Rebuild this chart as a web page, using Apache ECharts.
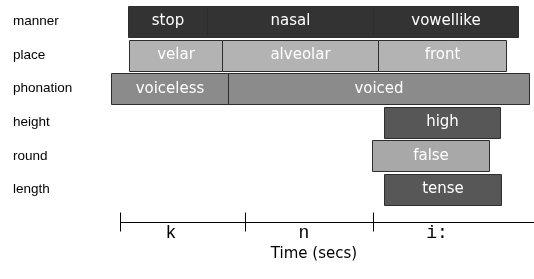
<!DOCTYPE html>
<html>
<head>
    <meta charset="UTF-8">
    <title>tiers</title>
    <script src="https://cdn.jsdelivr.net/npm/echarts@6.0.0/dist/echarts.min.js"></script>
</head>
<body style="margin:0;">
    <div id="main" style="width:534px;height:279px;"></div>
    <script type="text/javascript">
        // tiers (rows) and their segments, times in seconds
        var tiers = ['manner', 'place', 'phonation', 'height', 'round', 'length'];
        var segLabels = [
            ['stop', 'nasal', 'vowellike'],
            ['velar', 'alveolar', 'front'],
            ['voiceless', 'voiced'],
            ['high'],
            ['false'],
            ['tense']
        ];
        var segBounds = [
            [0.008, 0.087, 0.253, 0.398],
            [0.009, 0.102, 0.258, 0.386],
            [-0.009, 0.108, 0.409],
            [0.264, 0.380],
            [0.252, 0.369],
            [0.264, 0.381]
        ];
        // phone segments on the time ruler
        var phones = ['k', 'n', 'i:'];
        var phoneBounds = [0, 0.125, 0.253, 0.414];
        var phoneLabelAt = [0.051, 0.184, 0.317];

        var tierColors = ['#333333', '#b3b3b3', '#8b8b8b', '#575757', '#a8a8a8', '#575757'];

        var barData = [];
        segLabels.forEach(function (labels, row) {
            labels.forEach(function (lab, i) {
                barData.push([segBounds[row][i], segBounds[row][i + 1], row, lab]);
            });
        });
        var rulerData = phones.map(function (p, i) {
            return [phoneBounds[i], phoneBounds[i + 1], phoneLabelAt[i], p];
        });

        var myChart = echarts.init(document.getElementById('main'));
        myChart.setOption({
            animation: false,
            grid: { left: 94, right: 0, top: 4.7, bottom: 72.7 },
            xAxis: {
                type: 'value',
                min: -0.026,
                max: 0.414,
                name: 'Time (secs)',
                nameLocation: 'middle',
                nameGap: 47.7,
                nameTextStyle: { fontFamily: 'DejaVu Sans', fontSize: 15, color: '#000', verticalAlign: 'middle' },
                axisLine: { show: false },
                axisTick: { show: false },
                axisLabel: { show: false },
                splitLine: { show: false }
            },
            yAxis: {
                type: 'category',
                data: tiers,
                inverse: true,
                axisLine: { show: false },
                axisTick: { show: false },
                splitLine: { show: false },
                axisLabel: {
                    align: 'left',
                    margin: 81,
                    padding: [0, 0, 3, 0],
                    fontFamily: 'Liberation Sans',
                    fontSize: 13.5,
                    color: '#000'
                }
            },
            series: [{
                type: 'custom',
                name: 'segments',
                data: barData,
                encode: { x: [0, 1], y: 2 },
                renderItem: function (params, api) {
                    var row = api.value(2);
                    var p0 = api.coord([api.value(0), row]);
                    var p1 = api.coord([api.value(1), row]);
                    var h = api.size([0, 1])[1] * 0.92;
                    var x0 = Math.round(p0[0]) + 0.5;
                    var x1 = Math.round(p1[0]) + 0.5;
                    var y0 = Math.round(p0[1] - h / 2) + 0.5;
                    return {
                        type: 'group',
                        children: [{
                            type: 'rect',
                            shape: { x: x0, y: y0, width: x1 - x0, height: Math.round(h) },
                            style: { fill: tierColors[row], stroke: '#2e2e2e', lineWidth: 1 }
                        }, {
                            type: 'text',
                            x: (x0 + x1) / 2,
                            y: p0[1],
                            style: {
                                text: api.value(3),
                                fill: '#fff',
                                font: '15px "DejaVu Sans"',
                                align: 'center',
                                verticalAlign: 'middle'
                            }
                        }]
                    };
                }
            }, {
                type: 'custom',
                name: 'ruler',
                data: rulerData,
                encode: { x: [0, 1] },
                renderItem: function (params, api) {
                    var cs = params.coordSys;
                    var y = Math.round(cs.y + cs.height + 15.7) + 0.5;
                    var xa = Math.round(api.coord([api.value(0), 0])[0]) + 0.5;
                    var xb = Math.round(api.coord([api.value(1), 0])[0]) + 0.5;
                    var xl = api.coord([api.value(2), 0])[0];
                    return {
                        type: 'group',
                        children: [{
                            type: 'line',
                            shape: { x1: xa, y1: y, x2: xb, y2: y },
                            style: { stroke: '#000', lineWidth: 1 }
                        }, {
                            type: 'line',
                            shape: { x1: xa, y1: y - 10, x2: xa, y2: y + 9 },
                            style: { stroke: '#000', lineWidth: 1 }
                        }, {
                            type: 'text',
                            x: xl,
                            y: y + 10.7,
                            style: {
                                text: api.value(3),
                                fill: '#000',
                                font: '18px "Liberation Mono"',
                                align: 'center',
                                verticalAlign: 'middle'
                            }
                        }]
                    };
                }
            }]
        });
    </script>
</body>
</html>
